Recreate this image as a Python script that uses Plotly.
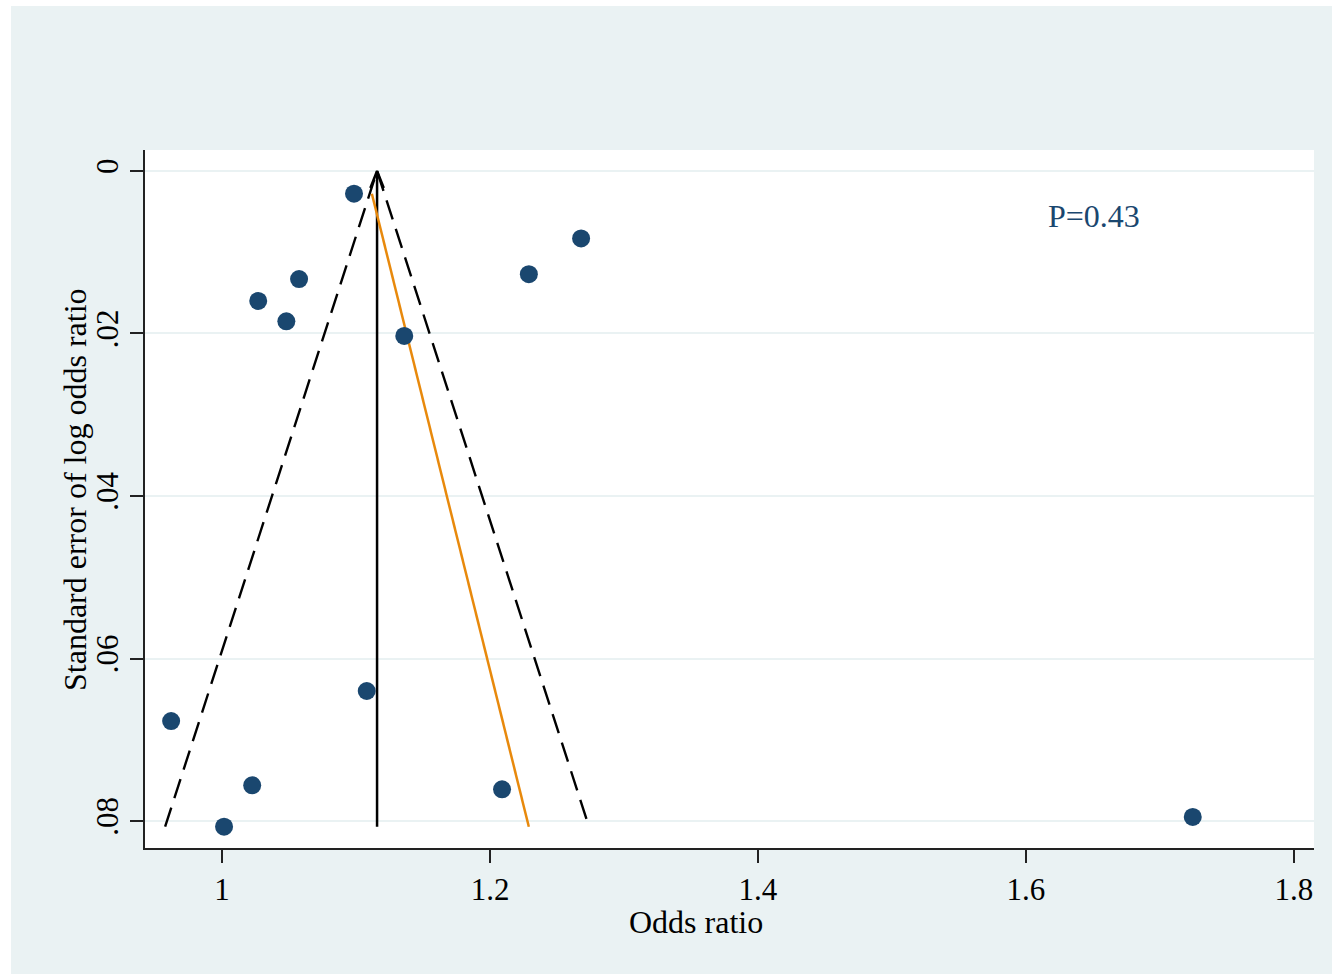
import plotly.graph_objects as go

# Study-level data
odds_ratio = [1.0985, 1.268, 1.229, 1.0575, 1.027, 1.048, 1.136, 1.108, 0.962, 1.0225, 1.209, 1.0015, 1.7245]
se_log_or = [0.0028, 0.0083, 0.0127, 0.0133, 0.0160, 0.0185, 0.0203, 0.0640, 0.0677, 0.0756, 0.0761, 0.0807, 0.0795]

pooled_or = 1.1157
se_max = 0.0807
se_min = 0.0028
egger_intercept = 1.1076
egger_slope = 1.504
p_label = "P=0.43"

x_ticks = [1, 1.2, 1.4, 1.6, 1.8]
x_tick_text = ["1", "1.2", "1.4", "1.6", "1.8"]
y_ticks = [0, 0.02, 0.04, 0.06, 0.08]
y_tick_text = ["0", ".02", ".04", ".06", ".08"]

BG = "#EAF2F3"
NAVY = "#1A476F"
ORANGE = "#E8890C"
FONT = "Liberation Serif"

fig = go.Figure()

# pseudo 95% CI funnel (dashed)
fig.add_trace(go.Scatter(
    x=[pooled_or - 1.96 * se_max, pooled_or, pooled_or + 1.96 * se_max],
    y=[se_max, 0, se_max],
    mode="lines", line=dict(color="black", width=2.4, dash="20px,10px"),
    hoverinfo="skip", showlegend=False))

# pooled estimate vertical line
fig.add_trace(go.Scatter(
    x=[pooled_or, pooled_or], y=[se_max, 0],
    mode="lines", line=dict(color="black", width=2.5),
    hoverinfo="skip", showlegend=False))

# arrow head
ah_dx, ah_dy = 0.005, 0.0021
fig.add_trace(go.Scatter(
    x=[pooled_or - ah_dx, pooled_or, pooled_or + ah_dx],
    y=[ah_dy, 0, ah_dy],
    mode="lines", line=dict(color="black", width=2.5),
    hoverinfo="skip", showlegend=False))

# Egger regression line
fig.add_trace(go.Scatter(
    x=[egger_intercept + egger_slope * se_min, egger_intercept + egger_slope * se_max],
    y=[se_min, se_max],
    mode="lines", line=dict(color=ORANGE, width=2.5),
    hoverinfo="skip", showlegend=False))

# studies
fig.add_trace(go.Scatter(
    x=odds_ratio, y=se_log_or, mode="markers",
    marker=dict(color=NAVY, size=18, line=dict(width=0)),
    showlegend=False))

fig.add_annotation(x=1.651, y=0.0056, xref="x", yref="y", text=p_label,
                   showarrow=False, font=dict(family=FONT, size=32, color=NAVY))

# axis titles
fig.add_annotation(x=(696 - 145) / 1169, y=(848 - 922) / 698, xref="paper", yref="paper",
                   text="Odds ratio", showarrow=False, xanchor="center", yanchor="middle",
                   font=dict(family=FONT, size=32, color="black"))
fig.add_annotation(x=(75 - 145) / 1169, y=(848 - 490) / 698, xref="paper", yref="paper",
                   text="Standard error of log odds ratio", showarrow=False, textangle=-90,
                   xanchor="center", yanchor="middle",
                   font=dict(family=FONT, size=32, color="black"))

# white strips at top/left of the image
fig.add_shape(type="rect", xref="paper", yref="paper",
              x0=(0 - 145) / 1169, x1=(11 - 145) / 1169, y0=-0.2, y1=1.3,
              fillcolor="white", line=dict(width=0), layer="above")
fig.add_shape(type="rect", xref="paper", yref="paper",
              x0=-0.2, x1=1.1, y0=(848 - 6) / 698, y1=(848 - 0) / 698,
              fillcolor="white", line=dict(width=0), layer="above")

fig.update_layout(
    width=1332, height=974,
    margin=dict(l=145, r=18, t=150, b=126),
    paper_bgcolor=BG, plot_bgcolor="white",
    font=dict(family=FONT, size=32, color="black"),
    xaxis=dict(range=[0.9425, 1.815], tickvals=x_ticks, ticktext=x_tick_text,
               showgrid=False, zeroline=False, showline=True, linecolor="#222",
               linewidth=1.5, ticks="outside", ticklen=13, tickwidth=1.5,
               tickcolor="#222", tickfont=dict(size=31)),
    yaxis=dict(range=[0.08332, -0.00258], tickvals=y_ticks, ticktext=y_tick_text,
               showgrid=True, gridcolor=BG, gridwidth=2, zeroline=False,
               showline=True, linecolor="#222", linewidth=1.5, ticks="outside",
               ticklen=13, tickwidth=1.5, tickcolor="#222", tickangle=-90,
               tickfont=dict(size=31)),
)

fig.write_html("out.html", config={"displayModeBar": False},
               post_script="document.body.style.margin='0';document.body.style.overflow='hidden';")
